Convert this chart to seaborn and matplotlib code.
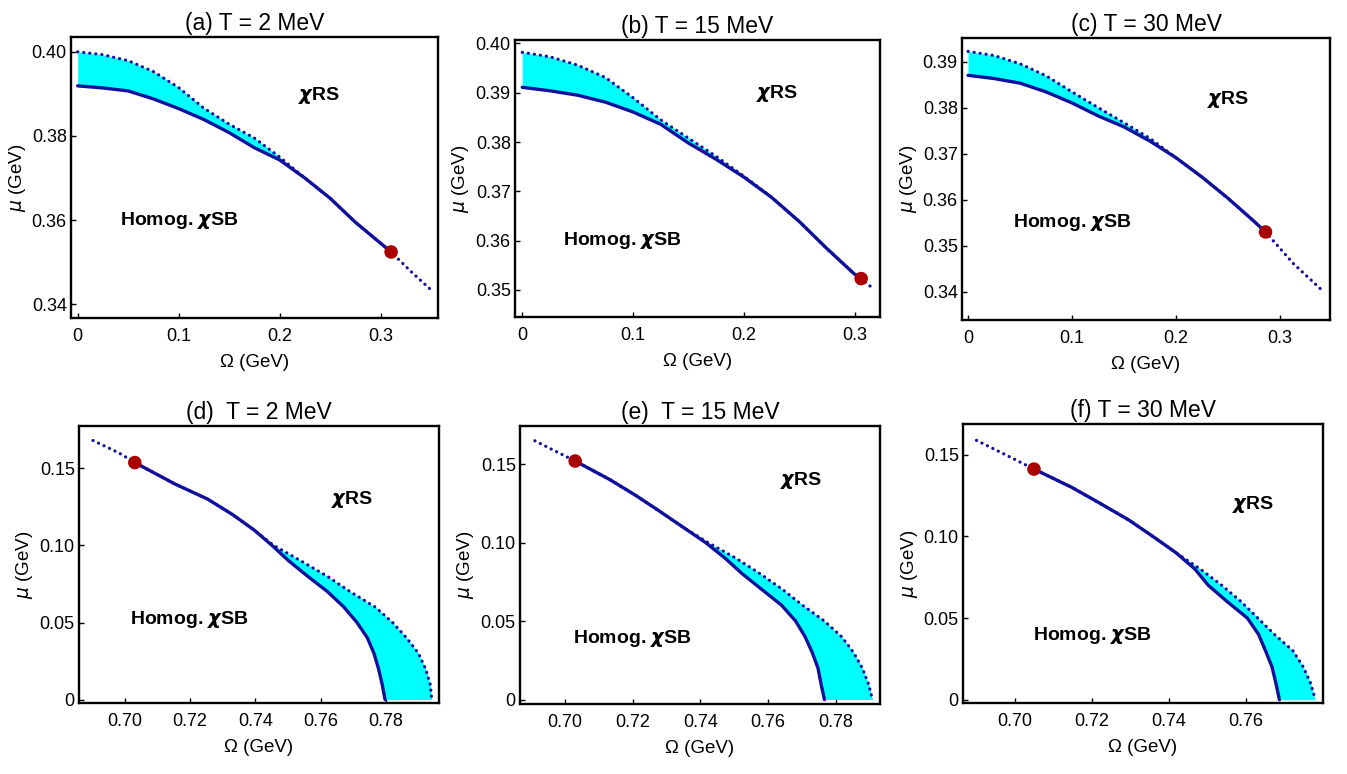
import numpy as np
import pandas as pd
import matplotlib
matplotlib.use("Agg")
import matplotlib.pyplot as plt
from matplotlib import font_manager
import seaborn as sns

sns.set_style("white")

_names = {f.name for f in font_manager.fontManager.ttflist}
HAS_NARROW = 'Liberation Sans Narrow' in _names
MAIN_FONT = 'Liberation Sans Narrow' if HAS_NARROW else 'Liberation Sans'
TICK_SIZE = 15 if HAS_NARROW else 13
LABEL_SIZE = 15 if HAS_NARROW else 13.5
TITLE_SIZE = 19 if HAS_NARROW else 16.5

plt.rcParams.update({
    'font.family': [MAIN_FONT, 'DejaVu Sans'],
    'mathtext.fontset': 'dejavusans',
    'text.color': 'black',
    'axes.labelcolor': 'black',
    'xtick.color': 'black',
    'ytick.color': 'black',
    'axes.edgecolor': 'black',
    'axes.linewidth': 1.7,
    'xtick.direction': 'in',
    'ytick.direction': 'in',
    'xtick.major.size': 3.5,
    'ytick.major.size': 3.5,
    'xtick.major.width': 1.0,
    'ytick.major.width': 1.0,
    'xtick.bottom': True,
    'ytick.left': True,
    'xtick.labelsize': TICK_SIZE,
    'ytick.labelsize': TICK_SIZE,
    'axes.labelsize': LABEL_SIZE,
})

LINE = '#10109c'
FILL = '#00ffff'
DOT = '#aa0000'

# ---- top row: mu as a function of Omega ----
omega_a = [0, 0.025, 0.05, 0.075, 0.1, 0.125, 0.15, 0.175, 0.2, 0.225, 0.25, 0.275, 0.3, 0.3105, 0.33, 0.35]
upper_a = [0.4000, 0.3993, 0.3979, 0.3953, 0.3915, 0.3866, 0.3828, 0.3795, 0.3750, 0.3700, 0.3652, 0.3595, 0.3545, 0.3524, 0.3478, 0.3434]
lower_a = [0.3919, 0.3914, 0.3907, 0.3888, 0.3865, 0.3839, 0.3808, 0.3772, 0.3743, 0.3700, 0.3652, 0.3595, 0.3545, 0.3524,
           np.nan, np.nan]
cep_a = (0.3105, 0.3524)

omega_b = [0, 0.025, 0.05, 0.075, 0.1, 0.125, 0.15, 0.175, 0.2, 0.225, 0.25, 0.275, 0.3, 0.306, 0.3166]
upper_b = [0.3982, 0.3973, 0.3956, 0.3931, 0.3890, 0.3845, 0.3808, 0.3771, 0.3731, 0.3688, 0.3639, 0.3584, 0.3532, 0.3523, 0.3503]
lower_b = [0.3911, 0.3904, 0.3895, 0.3881, 0.3861, 0.3836, 0.3798, 0.3765, 0.3729, 0.3688, 0.3639, 0.3584, 0.3532, 0.3523,
           np.nan]
cep_b = (0.306, 0.3523)

omega_c = [0, 0.025, 0.05, 0.075, 0.1, 0.125, 0.15, 0.175, 0.2, 0.225, 0.25, 0.275, 0.286, 0.3125, 0.34]
upper_c = [0.3922, 0.3913, 0.3895, 0.3869, 0.3834, 0.3800, 0.3767, 0.3733, 0.3691, 0.3649, 0.3603, 0.3553, 0.3530, 0.3462, 0.3404]
lower_c = [0.3870, 0.3863, 0.3853, 0.3834, 0.3810, 0.3782, 0.3758, 0.3727, 0.3691, 0.3649, 0.3603, 0.3553, 0.3530,
           np.nan, np.nan]
cep_c = (0.286, 0.3530)

# ---- bottom row: Omega as a function of mu ----
mu_d = [0.168, 0.16, 0.1537, 0.14, 0.13, 0.12, 0.11, 0.10, 0.09, 0.08, 0.07, 0.06, 0.05, 0.04, 0.03, 0.02, 0.01, 0]
dotted_d = [0.6903, 0.6982, 0.7031, 0.7152, 0.7254, 0.7330, 0.7396, 0.7456, 0.7539, 0.7620, 0.7690, 0.7767, 0.7820, 0.7863,
            0.7899, 0.7921, 0.7935, 0.7940]
solid_d = [np.nan, np.nan, 0.7031, 0.7152, 0.7254, 0.7330, 0.7396, 0.7451, 0.7502, 0.7560, 0.7621, 0.7671, 0.7711, 0.7743,
           0.7763, 0.7777, 0.7788, 0.7797]
cep_d = (0.7031, 0.1537)

mu_e = [0.1648, 0.16, 0.1519, 0.14, 0.13, 0.12, 0.11, 0.10, 0.09, 0.08, 0.07, 0.06, 0.05, 0.04, 0.03, 0.02, 0.01, 0]
dotted_e = [0.6911, 0.6955, 0.7030, 0.7133, 0.7209, 0.7279, 0.7347, 0.7422, 0.7505, 0.7577, 0.7643, 0.7702, 0.7766, 0.7817,
            0.7852, 0.7878, 0.7896, 0.7908]
solid_e = [np.nan, np.nan, 0.7030, 0.7133, 0.7209, 0.7279, 0.7347, 0.7415, 0.7473, 0.7524, 0.7582, 0.7640, 0.7681, 0.7709,
           0.7730, 0.7747, 0.7756, 0.7766]
cep_e = (0.7030, 0.1519)

mu_f = [0.1588, 0.15, 0.1412, 0.13, 0.12, 0.11, 0.10, 0.09, 0.08, 0.07, 0.06, 0.05, 0.04, 0.03, 0.02, 0.01, 0]
dotted_f = [0.6901, 0.6976, 0.7050, 0.7148, 0.7223, 0.7296, 0.7358, 0.7418, 0.7481, 0.7537, 0.7587, 0.7630, 0.7673, 0.7721,
            0.7748, 0.7767, 0.7779]
solid_f = [np.nan, np.nan, 0.7050, 0.7148, 0.7223, 0.7296, 0.7358, 0.7418, 0.7467, 0.7502, 0.7551, 0.7603, 0.7632, 0.7650,
           0.7667, 0.7677, 0.7686]
cep_f = (0.7050, 0.1412)

titles = ['(a) T = 2 MeV', '(b) T = 15 MeV', '(c) T = 30 MeV',
          '(d)  T = 2 MeV', '(e)  T = 15 MeV', '(f) T = 30 MeV']

xticks_top = [0, 0.1, 0.2, 0.3]
xticklabels_top = ['0', '0.1', '0.2', '0.3']
yticks_a = [0.34, 0.36, 0.38, 0.40]
yticks_b = [0.35, 0.36, 0.37, 0.38, 0.39, 0.40]
yticks_c = [0.34, 0.35, 0.36, 0.37, 0.38, 0.39]
xticks_bot = [0.70, 0.72, 0.74, 0.76, 0.78]
xticks_f = [0.70, 0.72, 0.74, 0.76]
yticks_bot = [0, 0.05, 0.10, 0.15]
yticklabels_bot = ['0', '0.05', '0.10', '0.15']

# layout (figure fractions) and axis limits
positions = [
    [0.0527, 0.5891, 0.2725, 0.3630],
    [0.3823, 0.5904, 0.2710, 0.3579],
    [0.7142, 0.5866, 0.2732, 0.3643],
    [0.0586, 0.0917, 0.2673, 0.3579],
    [0.3860, 0.0904, 0.2673, 0.3592],
    [0.7149, 0.0917, 0.2673, 0.3605],
]
xlims = [(-0.0066, 0.357), (-0.0066, 0.323), (-0.0058, 0.348),
         (0.686, 0.7962), (0.6867, 0.793), (0.6866, 0.7799)]
ylims = [(0.3367, 0.4035), (0.3445, 0.4007), (0.3339, 0.3951),
         (-0.0022, 0.1774), (-0.0028, 0.1742), (-0.002, 0.1688)]
rs_pos = [(0.2395, 0.3897), (0.2304, 0.3899), (0.25, 0.3817),
          (0.7697, 0.1295), (0.7698, 0.1394), (0.7617, 0.1194)]
sb_pos = [(0.101, 0.360), (0.0904, 0.3601), (0.10, 0.355),
          (0.7199, 0.0518), (0.7199, 0.0392), (0.72, 0.0392)]

fig = plt.figure(figsize=(13.47, 7.74), dpi=100)

dot_style = dict(color=LINE, lw=2.3, linestyle=(0, (0.05, 1.85)), dash_capstyle='round')
solid_style = dict(color=LINE, lw=2.4, solid_capstyle='round', solid_joinstyle='round')

top = [(omega_a, upper_a, lower_a, cep_a, yticks_a),
       (omega_b, upper_b, lower_b, cep_b, yticks_b),
       (omega_c, upper_c, lower_c, cep_c, yticks_c)]
bottom = [(mu_d, dotted_d, solid_d, cep_d, xticks_bot),
          (mu_e, dotted_e, solid_e, cep_e, xticks_bot),
          (mu_f, dotted_f, solid_f, cep_f, xticks_f)]

axes = [fig.add_axes(p) for p in positions]

for i, (om, up, lo, cep, yt) in enumerate(top):
    ax = axes[i]
    df = pd.DataFrame({'omega': om, 'upper': up, 'lower': lo})
    ax.fill_between(df['omega'], df['lower'], df['upper'], color=FILL, lw=0, zorder=1)
    sns.lineplot(data=df, x='omega', y='upper', sort=False, estimator=None, ax=ax, zorder=2, **dot_style)
    sns.lineplot(data=df.dropna(), x='omega', y='lower', sort=False, estimator=None, ax=ax, zorder=3, **solid_style)
    ax.set_xticks(xticks_top, xticklabels_top)
    ax.set_yticks(yt, [f'{v:.2f}' for v in yt])

for j, (mu, dt, so, cep, xt) in enumerate(bottom):
    ax = axes[3 + j]
    df = pd.DataFrame({'mu': mu, 'dotted': dt, 'solid': so})
    sub = df.dropna()
    ax.fill_betweenx(sub['mu'], sub['solid'], sub['dotted'], color=FILL, lw=0, zorder=1)
    sns.lineplot(data=df, x='dotted', y='mu', sort=False, estimator=None, ax=ax, zorder=2, **dot_style)
    sns.lineplot(data=sub, x='solid', y='mu', sort=False, estimator=None, ax=ax, zorder=3, **solid_style)
    ax.set_xticks(xt, [f'{v:.2f}' for v in xt])
    ax.set_yticks(yticks_bot, yticklabels_bot)

ceps = [cep_a, cep_b, cep_c, cep_d, cep_e, cep_f]
for k, ax in enumerate(axes):
    sns.scatterplot(x=[ceps[k][0]], y=[ceps[k][1]], color=DOT, s=95, edgecolor='none', ax=ax, zorder=4)
    ax.set_xlim(*xlims[k])
    ax.set_ylim(*ylims[k])
    ax.set_title(titles[k], fontsize=TITLE_SIZE, pad=5)
    ax.set_xlabel('Ω (GeV)', labelpad=7)
    ax.set_ylabel(r'$\mu$ (GeV)', labelpad=3)
    ax.tick_params(axis='x', pad=7)
    ax.tick_params(axis='y', pad=3)
    ax.text(*rs_pos[k], r'$\boldsymbol{\chi}$RS', fontsize=14, fontweight='bold',
            family=['Liberation Sans', 'DejaVu Sans'], ha='center', va='center')
    ax.text(*sb_pos[k], r'Homog. $\boldsymbol{\chi}$SB', fontsize=14, fontweight='bold',
            family=['Liberation Sans', 'DejaVu Sans'], ha='center', va='center')
    for s in ax.spines.values():
        s.set_visible(True)
        s.set_color('black')

fig.savefig('out.png', dpi=100)
